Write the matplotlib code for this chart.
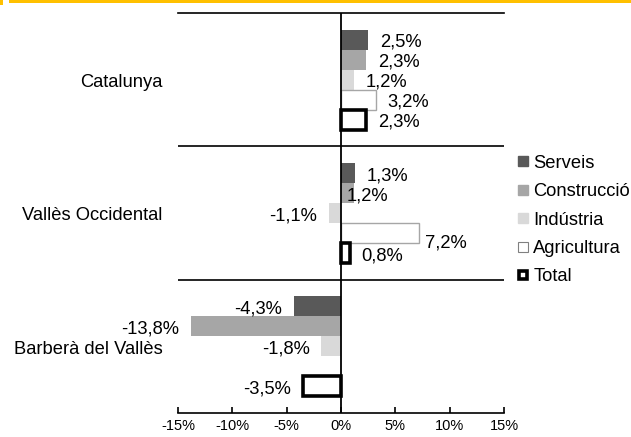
import matplotlib
matplotlib.use("Agg")
import matplotlib.pyplot as plt
from matplotlib.patches import Rectangle
from matplotlib.lines import Line2D
import numpy as np

plt.rcParams["font.family"] = ["Liberation Sans", "DejaVu Sans"]

places = ["Catalunya", "Vallès Occidental", "Barberà del Vallès"]
sectors = ["Serveis", "Construcció", "Indústria", "Agricultura", "Total"]
# percent change per sector, one list per sector in the order of places
serveis = [2.5, 1.3, -4.3]
construccio = [2.3, 1.2, -13.8]
industria = [1.2, -1.1, -1.8]
agricultura = [3.2, 7.2, np.nan]
total = [2.3, 0.8, -3.5]
xticks = [-15, -10, -5, 0, 5, 10, 15]

series = [serveis, construccio, industria, agricultura, total]
styles = [
    dict(color="#595959", edgecolor="none"),
    dict(color="#a6a6a6", edgecolor="none"),
    dict(color="#d9d9d9", edgecolor="none"),
    dict(color="white", edgecolor="#a6a6a6", linewidth=1.0),
    dict(color="white", edgecolor="black", linewidth=2.6),
]
# a couple of labels sit away from the usual spot in the original
nudge = {(1, 1): (-14, 0), (3, 1): (-4, -5)}

fs = 13.2

fig = plt.figure(figsize=(6.31, 4.37), dpi=100)
ax = fig.add_axes([178 / 631, 1 - 413 / 437, 326 / 631, 400 / 437])

h = 0.15
offs = (np.arange(len(sectors)) - 2) * h
ypos = np.arange(len(places))
for i, (vals, st) in enumerate(zip(series, styles)):
    v = np.array(vals, dtype=float)
    ok = ~np.isnan(v)
    ax.barh(ypos[ok] + offs[i], v[ok], height=h, **st)
    for j in range(len(places)):
        if not ok[j]:
            continue
        dx, dy = nudge.get((i, j), (0, 0))
        sgn = 1 if v[j] >= 0 else -1
        ax.annotate(f"{v[j]:.1f}%".replace(".", ","),
                    (v[j], ypos[j] + offs[i]),
                    xytext=(sgn * 8.5 + dx, -2 + dy), textcoords="offset points",
                    ha="left" if sgn > 0 else "right", va="center", fontsize=fs)

ax.set_xlim(-15, 15)
ax.set_ylim(2.5, -0.5)
ax.axvline(0, color="black", lw=1.3)
for b in [0.5, 1.5]:
    ax.axhline(b, color="black", lw=1.2)
for s in ["left", "right"]:
    ax.spines[s].set_visible(False)
ax.spines["top"].set_linewidth(1.2)
ax.spines["bottom"].set_linewidth(1.2)
ax.set_yticks([])
ax.set_xticks(xticks)
ax.set_xticklabels([f"{t}%" for t in xticks], fontsize=10.5)
ax.tick_params(axis="x", direction="in", length=4, width=1.2, pad=4)

for j, p in enumerate(places):
    ax.text(-16.4, ypos[j] + 0.02, p, ha="right", va="center", fontsize=fs)

handles = [
    Line2D([], [], ls="none", marker="s", markersize=7.5, markerfacecolor="#595959", markeredgecolor="#595959"),
    Line2D([], [], ls="none", marker="s", markersize=7.5, markerfacecolor="#a6a6a6", markeredgecolor="#a6a6a6"),
    Line2D([], [], ls="none", marker="s", markersize=7.5, markerfacecolor="#d9d9d9", markeredgecolor="#d9d9d9"),
    Line2D([], [], ls="none", marker="s", markersize=7, markerfacecolor="white", markeredgecolor="#808080", markeredgewidth=0.8),
    Line2D([], [], ls="none", marker="s", markersize=6.2, markerfacecolor="white", markeredgecolor="black", markeredgewidth=2.6),
]
fig.legend(handles, sectors, loc="upper left", bbox_to_anchor=(505 / 631, 1 - 142 / 437),
           frameon=False, fontsize=fs, handlelength=0.6, handletextpad=0.25,
           labelspacing=0.62, borderpad=0.2)

gold = "#ffc000"
fig.add_artist(Rectangle((9 / 631, 1 - 3 / 437), 1, 3 / 437, transform=fig.transFigure,
                         color=gold, lw=0))
fig.add_artist(Rectangle((0, 1 - 5 / 437), 3 / 631, 5 / 437, transform=fig.transFigure,
                         color=gold, lw=0))

fig.savefig("out.png", dpi=100)
